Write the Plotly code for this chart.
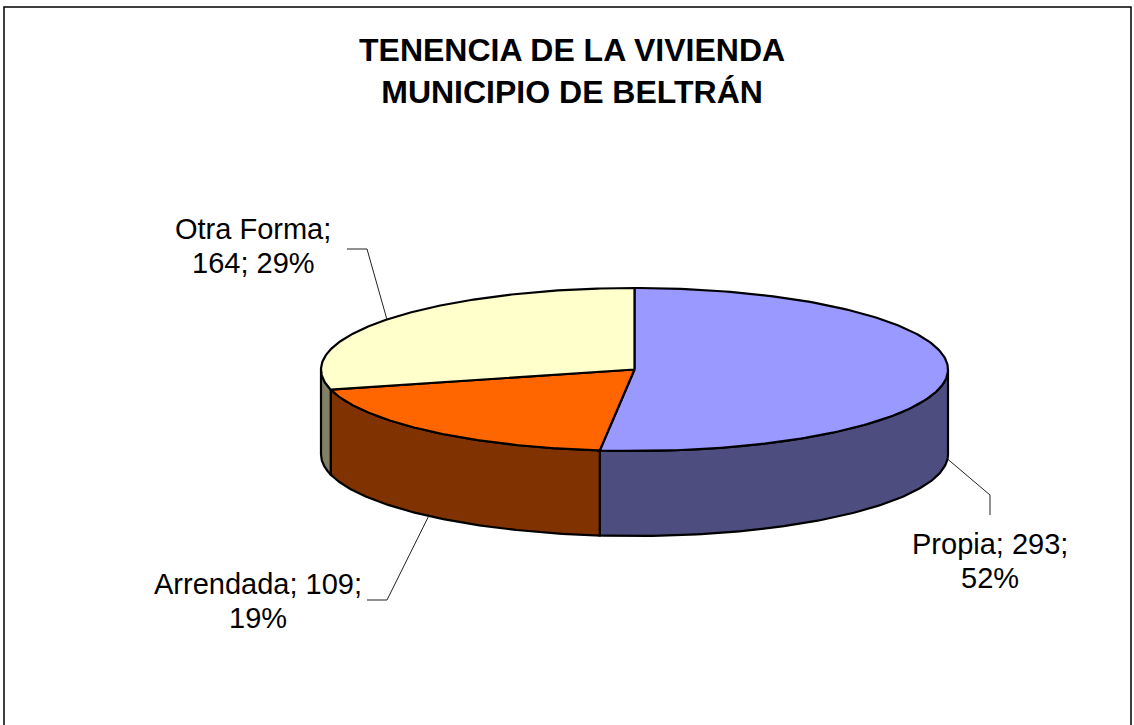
import numpy as np
import plotly.graph_objects as go

# ---- data ----
categories = ["Propia", "Arrendada", "Otra Forma"]
values = [293, 109, 164]
first_line_parts = [2, 2, 1]          # how many "; "-parts go on the first label line
title_lines = ["TENENCIA DE LA VIVIENDA", "MUNICIPIO DE BELTRÁN"]

# ---- styles / geometry (pixel space) ----
top_colors = ["#9999FF", "#FF6600", "#FFFFCC"]
side_colors = ["#4D4D80", "#803300", "#808066"]
CX, CY, RX, RY, DEPTH = 634.5, 369.5, 313.5, 81.5, 85
W, H = 1134, 725
FONT = "Liberation Sans, Arial, sans-serif"
LINE_GAP = 34
label_pos = {            # text centre and leader elbow/end for each label
    "Propia": dict(tx=990, ty=561, elbow=(990, 495), end=(990, 515)),
    "Arrendada": dict(tx=258, ty=601, elbow=(387, 600), end=(367, 600)),
    "Otra Forma": dict(tx=253, ty=246, elbow=(367, 249), end=(347, 249)),
}


def pt(theta, dy=0.0):
    t = np.radians(theta)
    return CX + RX * np.sin(t), CY - RY * np.cos(t) + dy


total = sum(values)
angles = np.concatenate([[0], np.cumsum(values) / total * 360])

fig = go.Figure()

# side walls (front half only)
for i, cat in enumerate(categories):
    s, e = angles[i], angles[i + 1]
    lo, hi = max(s, 90), min(e, 270)
    if lo < hi:
        th = np.linspace(lo, hi, 120)
        xt, yt = pt(th)
        xb, yb = pt(th[::-1], DEPTH)
        xs = np.concatenate([xt, xb, xt[:1]])
        ys = np.concatenate([yt, yb, yt[:1]])
        fig.add_trace(go.Scatter(x=xs, y=ys, mode="lines", fill="toself",
                                 fillcolor=side_colors[i],
                                 line=dict(color="black", width=2.2),
                                 hoverinfo="skip", showlegend=False))

# top faces
for i, cat in enumerate(categories):
    s, e = angles[i], angles[i + 1]
    th = np.linspace(s, e, 200)
    xa, ya = pt(th)
    xs = np.concatenate([[CX], xa, [CX]])
    ys = np.concatenate([[CY], ya, [CY]])
    fig.add_trace(go.Scatter(x=xs, y=ys, mode="lines", fill="toself",
                             fillcolor=top_colors[i],
                             line=dict(color="black", width=2.2),
                             name=cat, hoverinfo="name", showlegend=False))

# labels with leader lines
annotations = []
for i, cat in enumerate(categories):
    mid = (angles[i] + angles[i + 1]) / 2
    dy = DEPTH if np.cos(np.radians(mid)) < 0 else 0
    ax_, ay_ = pt(mid, dy)
    lp = label_pos[cat]
    fig.add_trace(go.Scatter(x=[ax_, lp["elbow"][0], lp["end"][0]],
                             y=[ay_, lp["elbow"][1], lp["end"][1]],
                             mode="lines", line=dict(color="#222222", width=1),
                             hoverinfo="skip", showlegend=False))
    pct = round(values[i] / total * 100)
    parts = [cat, str(values[i]), f"{pct}%"]
    n = first_line_parts[i]
    lines = ["; ".join(parts[:n]) + ";", "; ".join(parts[n:])]
    for k, line in enumerate(lines):
        annotations.append(dict(x=lp["tx"], y=lp["ty"] + (k - 0.5) * LINE_GAP,
                                text=line, showarrow=False,
                                xanchor="center", yanchor="middle", align="center",
                                font=dict(family=FONT, size=29, color="black")))

annotations.append(dict(x=572, y=71, text="<b>" + "<br>".join(title_lines) + "</b>",
                        showarrow=False, xanchor="center", yanchor="middle",
                        align="center",
                        font=dict(family=FONT, size=32, color="black")))

fig.update_layout(
    width=W, height=H,
    margin=dict(l=0, r=0, t=0, b=0),
    paper_bgcolor="white", plot_bgcolor="white",
    xaxis=dict(range=[0, W], visible=False, fixedrange=True),
    yaxis=dict(range=[H, 0], visible=False, fixedrange=True),
    annotations=annotations,
    shapes=[dict(type="rect", xref="x", yref="y", x0=4, y0=7, x1=1131, y1=760,
                 line=dict(color="black", width=1.5))],
    showlegend=False,
)

fig.write_html("out.html", config={"displayModeBar": False},
               post_script="document.body.style.margin='0';document.body.style.overflow='hidden';")
